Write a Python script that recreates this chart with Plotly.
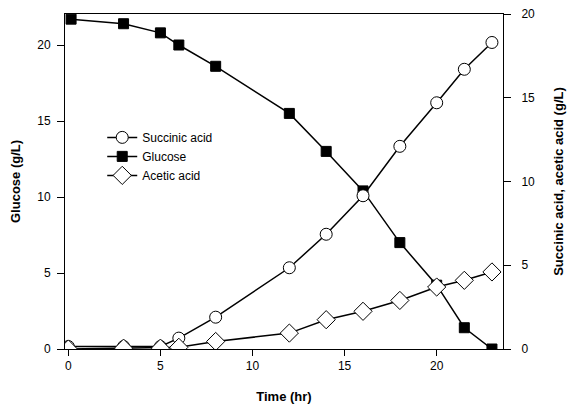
import plotly.graph_objects as go

time_glucose = [0.15, 3, 5, 6, 8, 12, 14, 16, 18, 20, 21.5, 23]
glucose = [21.7, 21.4, 20.8, 20.0, 18.6, 15.5, 13.0, 10.4, 7.0, 4.2, 1.4, 0.0]

time_acids = [0, 3, 5, 6, 8, 12, 14, 16, 18, 20, 21.5, 23]
succinic = [0.15, 0.15, 0.15, 0.65, 1.9, 4.85, 6.85, 9.15, 12.1, 14.7, 16.7, 18.3]
acetic = [0.0, 0.05, 0.05, 0.1, 0.45, 0.95, 1.75, 2.25, 2.9, 3.7, 4.1, 4.6]

FONT = "Liberation Sans, Arial, sans-serif"

fig = go.Figure()
fig.add_trace(go.Scatter(
    x=time_acids, y=succinic, name="Succinic acid", yaxis="y2",
    mode="lines+markers",
    line=dict(color="black", width=1.5),
    marker=dict(symbol="circle", size=12, color="white", line=dict(color="black", width=1)),
))
fig.add_trace(go.Scatter(
    x=time_glucose, y=glucose, name="Glucose", yaxis="y",
    mode="lines+markers",
    line=dict(color="black", width=1.5),
    marker=dict(symbol="square", size=10, color="black", line=dict(color="black", width=1)),
))
fig.add_trace(go.Scatter(
    x=time_acids, y=acetic, name="Acetic acid", yaxis="y2",
    mode="lines+markers",
    line=dict(color="black", width=1.5),
    marker=dict(symbol="diamond", size=14, color="white", line=dict(color="black", width=1)),
))

fig.update_layout(
    width=567, height=410,
    margin=dict(l=65, r=64, t=14, b=61, autoexpand=False),
    paper_bgcolor="white", plot_bgcolor="white",
    font=dict(family=FONT, size=12, color="black"),
    showlegend=True,
    legend=dict(
        x=0.085, y=0.675, xanchor="left", yanchor="top",
        bgcolor="rgba(0,0,0,0)", font=dict(size=12, family=FONT),
        tracegroupgap=0, itemwidth=30,
    ),
    xaxis=dict(
        range=[-0.18, 23.6], tickvals=[0, 5, 10, 15, 20],
        showgrid=False, zeroline=False, automargin=False,
        showline=True, linecolor="black", linewidth=1, mirror=True,
        ticks="outside", ticklen=6, tickcolor="black",
        tickfont=dict(size=12),
        title=dict(text="<b>Time (hr)</b>", font=dict(size=13), standoff=19),
    ),
    yaxis=dict(
        range=[0, 22.04], tickvals=[0, 5, 10, 15, 20],
        showgrid=False, zeroline=False, automargin=False,
        showline=True, linecolor="black", linewidth=1,
        ticks="outside", ticklen=7, tickcolor="black",
        ticklabelstandoff=4,
        tickfont=dict(size=12),
        title=dict(text="<b>Glucose (g/L)</b>", font=dict(size=13), standoff=13),
    ),
    yaxis2=dict(
        range=[0, 20], tickvals=[0, 5, 10, 15, 20],
        overlaying="y", side="right", automargin=False,
        showgrid=False, zeroline=False,
        showline=True, linecolor="black", linewidth=1,
        ticks="outside", ticklen=7, tickcolor="black",
        ticklabelstandoff=8,
        tickfont=dict(size=12),
        title=dict(text="<b>Succinic acid, acetic acid (g/L)</b>", font=dict(size=13), standoff=19),
    ),
)

fig.write_html(
    "out.html",
    config={"displayModeBar": False},
    post_script="document.body.style.margin='0';document.body.style.overflow='hidden';",
)
